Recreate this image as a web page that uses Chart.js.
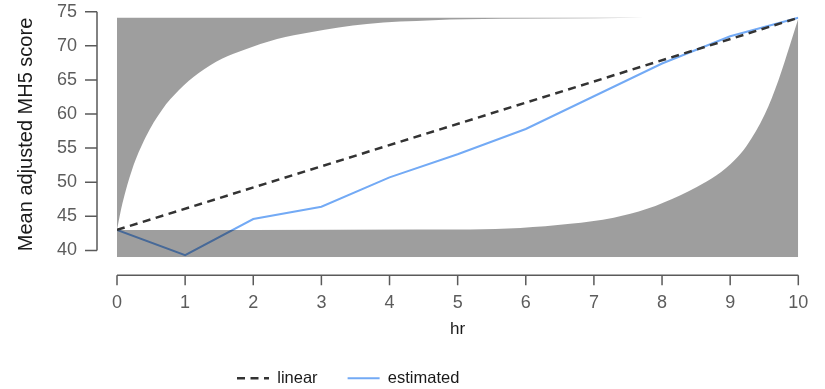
<!DOCTYPE html>
<html>
<head>
<meta charset="utf-8">
<title>Mean adjusted MH5 score</title>
<script src="https://cdn.jsdelivr.net/npm/chart.js@4.4.1/dist/chart.umd.min.js"></script>
<style>
	html, body { margin: 0; padding: 0; background: #fff; }
	#wrap { width: 825px; height: 389px; position: relative; }
</style>
</head>
<body>
<div id="wrap"><canvas id="myChart"></canvas></div>
<script>
// axis ticks
const xTicks = [0, 1, 2, 3, 4, 5, 6, 7, 8, 9, 10];
const yTicks = [40, 45, 50, 55, 60, 65, 70, 75];

// estimated curve, one value per hour
const estHours = [0, 1, 2, 3, 4, 5, 6, 7, 8, 9, 10];
const estimated = [43, 39.3, 44.6, 46.4, 50.7, 54.1, 57.8, 62.6, 67.4, 71.4, 74.1];

// linear reference, only its two end points
const linHours = [0, 10];
const linear = [43, 74.1];

// upper edge of the white band (rises early)
const upperHours = [0, 0.08, 0.22, 0.42, 0.66, 0.91, 1.2, 1.54, 1.86, 2.35, 2.84, 3.67, 4.64, 5.62, 7, 8.5, 10];
const upperVals = [43, 46.9, 51.8, 56.6, 60.6, 63.5, 66.0, 68.1, 69.4, 71.0, 72.0, 73.2, 73.75, 73.95, 74.05, 74.1, 74.1];

// lower edge of the white band (rises late)
const lowerHours = [0, 2, 4.45, 5.92, 6.65, 7.29, 7.78, 8.27, 8.51, 8.8, 9.07, 9.24, 9.51, 9.71, 9.88, 10];
const lowerVals = [43, 43, 43.05, 43.3, 43.9, 44.8, 46.1, 48.1, 49.3, 51.0, 53.3, 55.3, 60.0, 65.0, 70.2, 74.0];

// gray box limits
const bandTop = 74.1;
const bandBottom = 39;

function pts(xs, ys) {
	return xs.map((v, i) => ({ x: v, y: ys[i] }));
}

const FONT = '"Liberation Sans", Arial, Helvetica, sans-serif';
Chart.defaults.font.family = FONT;

// R style axes: detached from the plot box
const rAxes = {
	id: 'rAxes',
	afterLayout(chart) {
		const lg = chart.legend;
		if (!lg) return;
		lg.left = 207;
		lg.top += 7.5;
		lg.bottom += 7.5;
	},
	afterDraw(chart) {
		const { ctx, chartArea, scales } = chart;
		const x = scales.x, y = scales.y;
		ctx.save();
		ctx.strokeStyle = '#5a5a5a';
		ctx.lineWidth = 1.5;
		ctx.beginPath();
		const ax = chartArea.left - 20;
		ctx.moveTo(ax, y.getPixelForValue(yTicks[0]));
		ctx.lineTo(ax, y.getPixelForValue(yTicks[yTicks.length - 1]));
		yTicks.forEach(v => {
			const p = y.getPixelForValue(v);
			ctx.moveTo(ax, p);
			ctx.lineTo(ax - 12, p);
		});
		const ay = chartArea.bottom + 18;
		ctx.moveTo(x.getPixelForValue(xTicks[0]), ay);
		ctx.lineTo(x.getPixelForValue(xTicks[xTicks.length - 1]), ay);
		xTicks.forEach(v => {
			const p = x.getPixelForValue(v);
			ctx.moveTo(p, ay);
			ctx.lineTo(p, ay + 10);
		});
		ctx.stroke();
		ctx.restore();
	}
};

const ctx = document.getElementById('myChart');
const chart = new Chart(ctx, {
	type: 'line',
	data: {
		datasets: [
			{
				label: 'linear',
				data: pts(linHours, linear),
				borderColor: '#333333',
				borderWidth: 2.5,
				borderDash: [8, 5.5],
				pointRadius: 0,
				fill: false,
				order: 0
			},
			{
				label: 'upper',
				data: pts(upperHours, upperVals),
				borderWidth: 0,
				borderColor: 'rgba(0,0,0,0)',
				backgroundColor: 'rgba(0,0,0,0.38)',
				pointRadius: 0,
				cubicInterpolationMode: 'monotone',
				fill: { value: bandTop },
				order: 1
			},
			{
				label: 'lower',
				data: pts(lowerHours, lowerVals),
				borderWidth: 0,
				borderColor: 'rgba(0,0,0,0)',
				backgroundColor: 'rgba(0,0,0,0.38)',
				pointRadius: 0,
				cubicInterpolationMode: 'monotone',
				fill: { value: bandBottom },
				order: 2
			},
			{
				label: 'estimated',
				data: pts(estHours, estimated),
				borderColor: 'rgb(115,170,245)',
				borderWidth: 2,
				pointRadius: 0,
				fill: false,
				order: 3
			}
		]
	},
	options: {
		responsive: true,
		maintainAspectRatio: false,
		animation: false,
		layout: { padding: { left: 0, right: 26.7, top: 11.7, bottom: 0 } },
		scales: {
			x: {
				type: 'linear',
				min: 0,
				max: 10,
				afterFit(scale) {
					scale.height = 75.3;
					scale.paddingLeft = 0;
					scale.paddingRight = 0;
				},
				afterBuildTicks(scale) { scale.ticks = xTicks.map(v => ({ value: v })); },
				grid: { display: false, drawTicks: false },
				border: { display: false },
				ticks: { padding: 34.8, color: '#5c5c5c', font: { size: 18 }, maxRotation: 0 },
				title: { display: true, text: 'hr', color: '#1a1a1a', font: { size: 17 }, padding: { top: 0, bottom: -6.8 } }
			},
			y: {
				min: bandBottom,
				max: 75,
				afterFit(scale) {
					scale.width = 117;
					scale.paddingTop = 0;
					scale.paddingBottom = 0;
				},
				afterBuildTicks(scale) { scale.ticks = yTicks.map(v => ({ value: v })); },
				grid: { display: false, drawTicks: false },
				border: { display: false },
				ticks: { padding: 40, color: '#5c5c5c', font: { size: 18 } },
				title: { display: true, text: 'Mean adjusted MH5 score', color: '#1a1a1a', font: { size: 20 }, padding: { top: 14.5, bottom: 0 } }
			}
		},
		plugins: {
			filler: { drawTime: 'beforeDatasetDraw' },
			tooltip: { enabled: false },
			legend: {
				position: 'bottom',
				align: 'start',
				labels: {
					usePointStyle: true,
					pointStyle: 'line',
					pointStyleWidth: 32,
					padding: 30,
					color: '#1a1a1a',
					font: { size: 16.5 },
					generateLabels(chart) {
						const items = Chart.defaults.plugins.legend.labels.generateLabels(chart);
						return items
							.filter(it => it.text === 'linear' || it.text === 'estimated')
							.map(it => {
								const ds = chart.data.datasets[it.datasetIndex];
								it.strokeStyle = ds.borderColor;
								it.lineWidth = ds.borderWidth;
								it.lineDash = ds.borderDash || [];
								it.pointStyle = 'line';
								return it;
							});
					}
				}
			}
		}
	},
	plugins: [rAxes]
});
</script>
</body>
</html>
